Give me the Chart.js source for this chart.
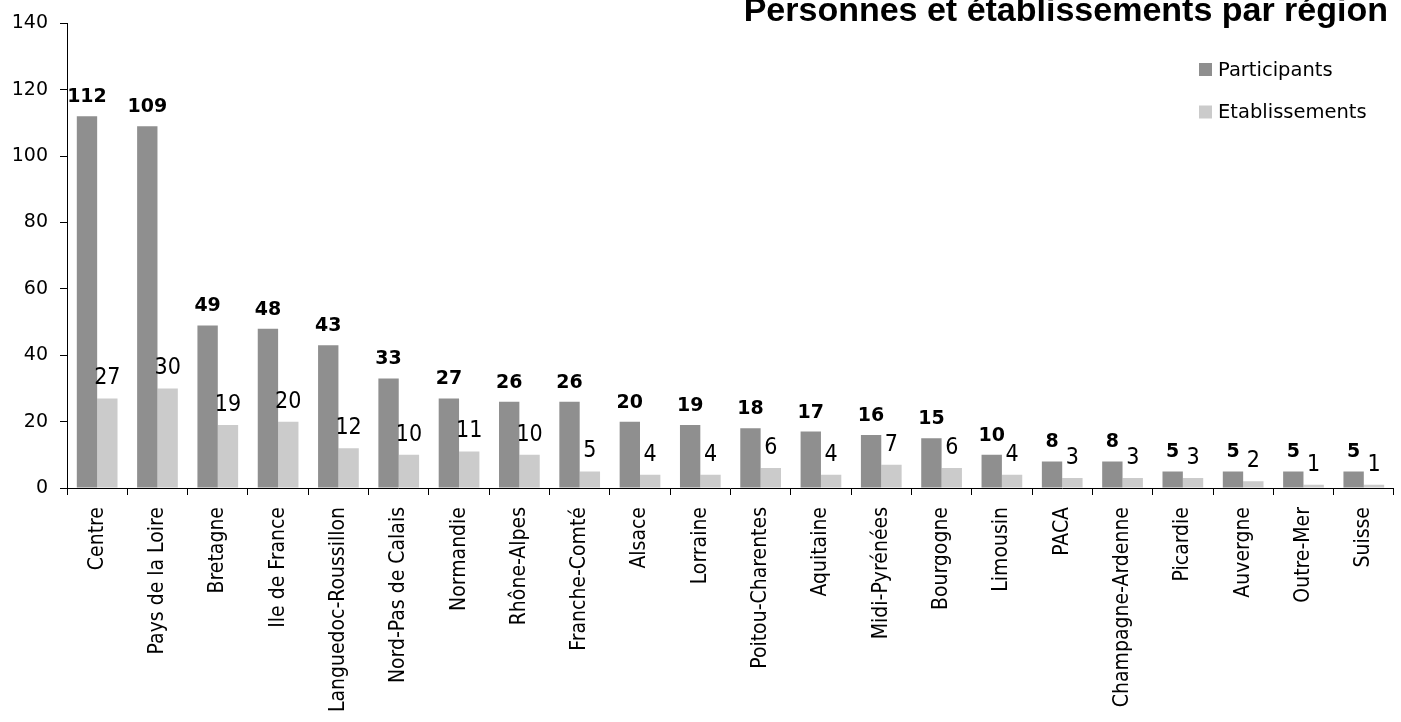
<!DOCTYPE html>
<html>
<head>
<meta charset="utf-8">
<script src="https://cdn.jsdelivr.net/npm/chart.js@4.4.0/dist/chart.umd.min.js"></script>
<style>
html,body{margin:0;padding:0;background:#fff;overflow:hidden}
#wrap{width:1401px;height:722px;position:relative}
</style>
</head>
<body>
<div id="wrap"><canvas id="c" width="1401" height="722"></canvas></div>
<script>
const chartTitle = 'Personnes et établissements par région';
const categories = ['Centre','Pays de la Loire','Bretagne','Ile de France','Languedoc-Roussillon','Nord-Pas de Calais','Normandie','Rhône-Alpes','Franche-Comté','Alsace','Lorraine','Poitou-Charentes','Aquitaine','Midi-Pyrénées','Bourgogne','Limousin','PACA','Champagne-Ardenne','Picardie','Auvergne','Outre-Mer','Suisse'];
const participants = [112,109,49,48,43,33,27,26,26,20,19,18,17,16,15,10,8,8,5,5,5,5];
const etablissements = [27,30,19,20,12,10,11,10,5,4,4,6,4,7,6,4,3,3,3,2,1,1];
const yTickValues = [0,20,40,60,80,100,120,140];
const seriesNames = ['Participants','Etablissements'];
const seriesColors = ['#8f8f8f','#cbcbcb'];

const titlePlugin = {
  id: 'customTitle',
  afterDraw(chart) {
    const ctx = chart.ctx;
    ctx.save();
    ctx.font = 'bold 34px "Liberation Sans", Arial, sans-serif';
    ctx.fillStyle = '#000';
    ctx.textAlign = 'right';
    ctx.textBaseline = 'alphabetic';
    ctx.fillText(chartTitle, 1388, 21);
    ctx.restore();
  }
};

const legendPlugin = {
  id: 'customLegend',
  afterDraw(chart) {
    const ctx = chart.ctx;
    ctx.save();
    chart.data.datasets.forEach((ds, i) => {
      const y = 63 + i * 42.5;
      ctx.fillStyle = ds.backgroundColor;
      ctx.fillRect(1199, y, 13, 13);
      ctx.fillStyle = '#000';
      ctx.font = '19.5px "DejaVu Sans", sans-serif';
      ctx.textAlign = 'left';
      ctx.textBaseline = 'alphabetic';
      ctx.fillText(ds.label, 1218, y + 12.5);
    });
    ctx.restore();
  }
};

const valueLabelPlugin = {
  id: 'valueLabels',
  afterDatasetsDraw(chart) {
    const ctx = chart.ctx;
    ctx.save();
    ctx.fillStyle = '#000';
    ctx.textAlign = 'center';
    ctx.textBaseline = 'alphabetic';
    chart.data.datasets.forEach((ds, i) => {
      const meta = chart.getDatasetMeta(i);
      ctx.font = i === 0 ? 'bold 19px "DejaVu Sans", sans-serif' : '23px "DejaVu Sans Condensed", "DejaVu Sans", sans-serif';
      meta.data.forEach((el, j) => {
        ctx.fillText(String(ds.data[j]), el.x, el.y - 14);
      });
    });
    ctx.restore();
  }
};

new Chart(document.getElementById('c'), {
  type: 'bar',
  data: {
    labels: categories,
    datasets: [
      { label: seriesNames[0], data: participants, backgroundColor: seriesColors[0], borderWidth: 0 },
      { label: seriesNames[1], data: etablissements, backgroundColor: seriesColors[1], borderWidth: 0 }
    ]
  },
  options: {
    responsive: false,
    animation: false,
    events: [],
    layout: { padding: { top: 22, right: 0, bottom: 0, left: 0 } },
    datasets: { bar: { categoryPercentage: 0.675, barPercentage: 1.0 } },
    plugins: { legend: { display: false }, title: { display: false }, tooltip: { enabled: false } },
    scales: {
      x: {
        offset: true,
        grid: { display: true, drawOnChartArea: false, drawTicks: true, tickLength: 7, color: '#000', offset: true },
        border: { display: true, color: '#000', width: 1 },
        ticks: {
          autoSkip: false, minRotation: 90, maxRotation: 90, padding: 12, color: '#000',
          font: { family: '"DejaVu Sans Condensed", "DejaVu Sans", sans-serif', size: 21 }
        },
        afterFit(scale) { scale.height = 234; }
      },
      y: {
        min: 0, max: 140,
        grid: { display: true, drawOnChartArea: false, drawTicks: true, tickLength: 7, color: '#000' },
        border: { display: true, color: '#000', width: 1 },
        ticks: { stepSize: 20, padding: 12, color: '#000', font: { family: '"DejaVu Sans", sans-serif', size: 19 } },
        afterBuildTicks(scale) { scale.ticks = yTickValues.map(v => ({ value: v })); },
        afterFit(scale) { scale.width = 67; }
      }
    }
  },
  plugins: [titlePlugin, legendPlugin, valueLabelPlugin]
});
</script>
</body>
</html>
